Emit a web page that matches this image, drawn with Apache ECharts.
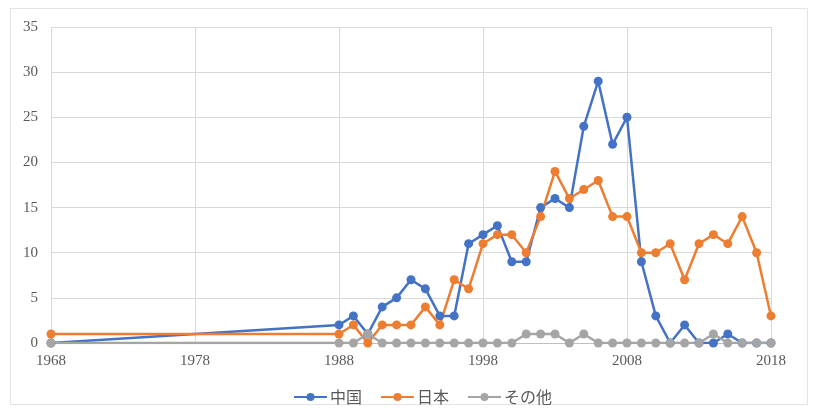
<!DOCTYPE html>
<html>
<head>
<meta charset="utf-8">
<script src="https://cdn.jsdelivr.net/npm/echarts@6/dist/echarts.min.js"></script>
<style>
  html, body { margin: 0; padding: 0; background: #ffffff; }
  #chart { width: 813px; height: 410px; }
</style>
</head>
<body>
<div id="chart"></div>
<script>
// Years on the horizontal axis (1968, then yearly from 1988)
const years = [1968, 1988, 1989, 1990, 1991, 1992, 1993, 1994, 1995, 1996, 1997,
  1998, 1999, 2000, 2001, 2002, 2003, 2004, 2005, 2006, 2007,
  2008, 2009, 2010, 2011, 2012, 2013, 2014, 2015, 2016, 2017, 2018];

// Counts per series
const chinaValues = [0, 2, 3, 1, 4, 5, 7, 6, 3, 3, 11,
  12, 13, 9, 9, 15, 16, 15, 24, 29, 22,
  25, 9, 3, 0, 2, 0, 0, 1, 0, 0, 0];
const japanValues = [1, 1, 2, 0, 2, 2, 2, 4, 2, 7, 6,
  11, 12, 12, 10, 14, 19, 16, 17, 18, 14,
  14, 10, 10, 11, 7, 11, 12, 11, 14, 10, 3];
const otherValues = [0, 0, 0, 1, 0, 0, 0, 0, 0, 0, 0,
  0, 0, 0, 1, 1, 1, 0, 1, 0, 0,
  0, 0, 0, 0, 0, 0, 1, 0, 0, 0, 0];

const seriesNames = ['中国', '日本', 'その他'];
const seriesColors = ['#4472C4', '#ED7D31', '#A5A5A5'];

const xTicks = [1968, 1978, 1988, 1998, 2008, 2018];

const labelFont = 'Liberation Serif';
const textColor = '#595959';

function pairs(vals) {
  return years.map((y, i) => [y, vals[i]]);
}

const chart = echarts.init(document.getElementById('chart'), null, { renderer: 'canvas' });

const allValues = [chinaValues, japanValues, otherValues];

chart.setOption({
  animation: false,
  backgroundColor: '#ffffff',
  graphic: [{
    type: 'rect',
    shape: { x: 10.5, y: 8.5, width: 797, height: 396 },
    style: { fill: 'none', stroke: '#e3e3e3', lineWidth: 1 },
    silent: true
  }],
  grid: { left: 51, right: 42, top: 27, bottom: 67 },
  xAxis: {
    type: 'value',
    min: xTicks[0],
    max: xTicks[xTicks.length - 1],
    interval: 10,
    axisLine: { show: true, lineStyle: { color: '#bfbfbf', width: 1 } },
    axisTick: { show: false },
    splitLine: { show: true, lineStyle: { color: '#d9d9d9', width: 1 } },
    axisLabel: {
      color: textColor, fontFamily: labelFont, fontSize: 15, margin: 11,
      formatter: v => String(v)
    }
  },
  yAxis: {
    type: 'value',
    min: 0,
    max: 35,
    interval: 5,
    axisLine: { show: false },
    axisTick: { show: false },
    splitLine: { show: true, lineStyle: { color: '#d9d9d9', width: 1 } },
    axisLabel: { color: textColor, fontFamily: labelFont, fontSize: 15, margin: 13 }
  },
  legend: {
    top: 384,
    left: 288,
    itemWidth: 33,
    itemHeight: 10,
    itemGap: 18,
    textStyle: { color: textColor, fontFamily: 'Noto Sans CJK JP', fontSize: 16, padding: [0, 0, 0, -2] },
    data: seriesNames
  },
  series: seriesNames.map((name, i) => ({
    name: name,
    type: 'line',
    data: pairs(allValues[i]),
    color: seriesColors[i],
    symbol: 'circle',
    symbolSize: 9,
    showAllSymbol: true,
    lineStyle: { width: 2.5, color: seriesColors[i] },
    itemStyle: { color: seriesColors[i] }
  }))
});
</script>
</body>
</html>
